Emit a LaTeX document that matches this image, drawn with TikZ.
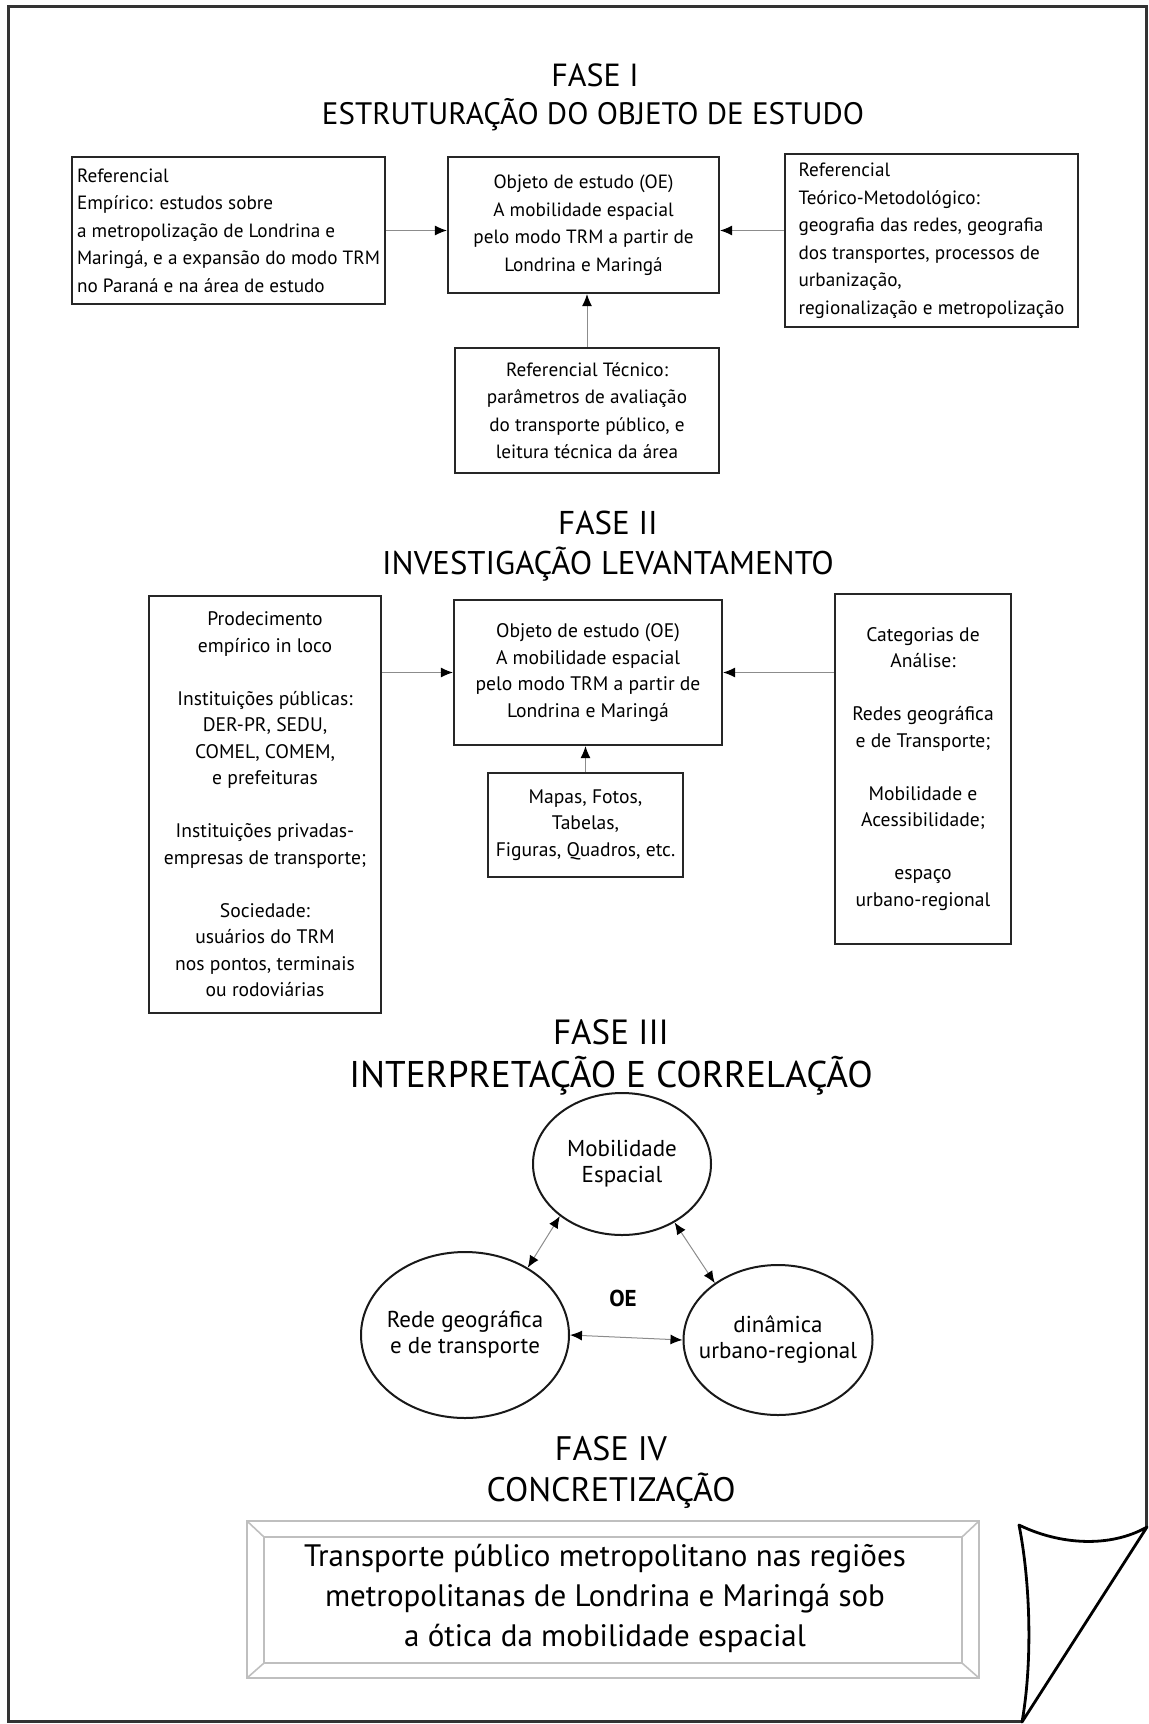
\documentclass[tikz,border=0pt]{standalone}
\usepackage{fontspec}
\setmainfont{PT Sans}
\usetikzlibrary{arrows.meta,shapes.geometric}
\begin{document}
\begin{tikzpicture}[x=0.5pt,y=-0.5pt,
  box/.style={draw=black!85, line width=1.1pt, inner sep=2pt, font=\fontsize{9.6}{13.75}\selectfont},
  boxb/.style={draw=black!85, line width=1.1pt, inner sep=2pt, font=\fontsize{9.8}{13.25}\selectfont},
  oval/.style={draw=black!90, line width=1pt, ellipse, inner sep=0pt},
  ovaltext/.style={font=\fontsize{11.5}{13}\selectfont, align=center},
  conn/.style={draw=black!45, line width=0.5pt, -{Latex[length=6pt,width=5pt,color=black]}},
  dbl/.style={draw=black!45, line width=0.5pt, {Latex[length=6pt,width=5pt,color=black]}-{Latex[length=6pt,width=5pt,color=black]}},
  ttl/.style={anchor=base, font=\fontsize{16}{19}\selectfont},
  bevel/.style={draw=black!25, line width=0.8pt},
  frame/.style={draw=black!80, line width=1.5pt},
]
\useasboundingbox (0,0) rectangle (1148,1724);

% outer frame
\draw[frame] (1146,1527) -- (1146,6) -- (8,6) -- (8,1721) -- (1022,1721);

% ---------------- FASE I
\node[ttl] (f1) at (595,86) {FASE I};
\node[ttl, font=\fontsize{15.5}{19}\selectfont] (f1t) at (593,124) {ESTRUTURAÇÃO DO OBJETO DE ESTUDO};

\node[box, minimum width=156.5pt, minimum height=73.5pt, align=left] (b1) at (228.5,230.5)
  {Referencial\\Empírico: estudos sobre\\a metropolização de Londrina e\\Maringá, e a expansão do modo TRM\\no Paraná e na área de estudo};
\node[box, minimum width=135.5pt, minimum height=68pt, align=center] (b2) at (583.5,225)
  {Objeto de estudo (OE)\\A mobilidade espacial\\pelo modo TRM a partir de\\Londrina e Maringá};
\node[box, minimum width=146.5pt, minimum height=86.5pt, align=left] (b3) at (931.5,240.5)
  {Referencial\\Teórico-Metodológico:\\geografia das redes, geografia\\dos transportes, processos de\\urbanização,\\regionalização e metropolização};
\node[box, minimum width=132pt, minimum height=62.5pt, align=center] (b4) at (587,410.5)
  {Referencial Técnico:\\parâmetros de avaliação\\do transporte público, e\\leitura técnica da área};

\draw[conn] (b1.east) -- (b1.east -| b2.west);
\draw[conn] (b3.west |- b1.east) -- (b2.east |- b1.east);
\draw[conn] (b4.north) -- (b4.north |- b2.south);

% ---------------- FASE II
\node[ttl, font=\fontsize{16.5}{19}\selectfont] (f2) at (608,534) {FASE II};
\node[ttl, font=\fontsize{16.4}{19}\selectfont] (f2t) at (608,574) {INVESTIGAÇÃO LEVANTAMENTO};

\node[boxb, minimum width=116pt, minimum height=208.5pt, align=center] (c1) at (265,804.5)
  {Prodecimento\\empírico in loco\\[13.25pt]Instituições públicas:\\DER-PR, SEDU,\\COMEL, COMEM,\\e prefeituras\\[13.25pt]Instituições privadas-\\empresas de transporte;\\[13.25pt]Sociedade:\\usuários do TRM\\nos pontos, terminais\\ou rodoviárias};
\node[boxb, minimum width=134pt, minimum height=72.5pt, align=center] (c2) at (588,672.5)
  {Objeto de estudo (OE)\\A mobilidade espacial\\pelo modo TRM a partir de\\Londrina e Maringá};
\node[boxb, minimum width=97.5pt, minimum height=52pt, align=center] (c3) at (585.5,825)
  {Mapas, Fotos,\\Tabelas,\\Figuras, Quadros, etc.};
\node[boxb, minimum width=88pt, minimum height=175pt, align=center] (c4) at (923,769)
  {Categorias de\\Análise:\\[13.25pt]Redes geográfica\\e de Transporte;\\[13.25pt]Mobilidade e\\Acessibilidade;\\[13.25pt]espaço\\urbano-regional};

\draw[conn] (c1.east |- c2.west) -- (c2.west);
\draw[conn] (c4.west |- c2.east) -- (c2.east);
\draw[conn] (c3.north) -- (c3.north |- c2.south);

% ---------------- FASE III
\node[ttl, font=\fontsize{17.5}{20}\selectfont] (f3) at (611,1044) {FASE III};
\node[ttl, font=\fontsize{18.6}{21}\selectfont] (f3t) at (611,1087) {INTERPRETAÇÃO E CORRELAÇÃO};

\node[oval, minimum width=89pt, minimum height=71pt,
  label={[ovaltext]center:Mobilidade\\Espacial}] (e1) at (622,1164) {};
\node[oval, minimum width=104pt, minimum height=83pt,
  label={[ovaltext]center:Rede geográfica\\e de transporte}] (e2) at (465,1335) {};
\node[oval, minimum width=94.5pt, minimum height=75pt,
  label={[ovaltext]center:dinâmica\\urbano-regional}] (e3) at (778,1340) {};
\node[font=\fontsize{11.5}{13}\selectfont\bfseries] (oe) at (623,1298) {OE};

\draw[dbl] (e1.220) -- (e2.47);
\draw[dbl] (e1.312) -- (e3.138);
\draw[dbl] (e2.0) -- (e3.180);

% ---------------- FASE IV
\node[ttl, font=\fontsize{17}{20}\selectfont] (f4) at (611,1460) {FASE IV};
\node[ttl, font=\fontsize{17}{20}\selectfont] (f4t) at (611,1501) {CONCRETIZAÇÃO};

\draw[bevel] (247,1521) rectangle (979,1678);
\draw[bevel] (264,1537) rectangle (962,1663);
\draw[bevel] (247,1521) -- (264,1537) (979,1521) -- (962,1537)
             (247,1678) -- (264,1663) (979,1678) -- (962,1663);
\node[font=\fontsize{15.5}{20}\selectfont, align=center] (t4) at (605,1598)
  {Transporte público metropolitano nas regiões\\metropolitanas de Londrina e Maringá sob\\a ótica da mobilidade espacial};

% page curl
\draw[line width=1.4pt, fill=white, line join=round]
  (1019,1525) .. controls (1060,1545) and (1110,1548) .. (1147,1527)
  -- (1022,1722) .. controls (1033,1660) and (1030,1580) .. cycle;
\end{tikzpicture}
\end{document}
